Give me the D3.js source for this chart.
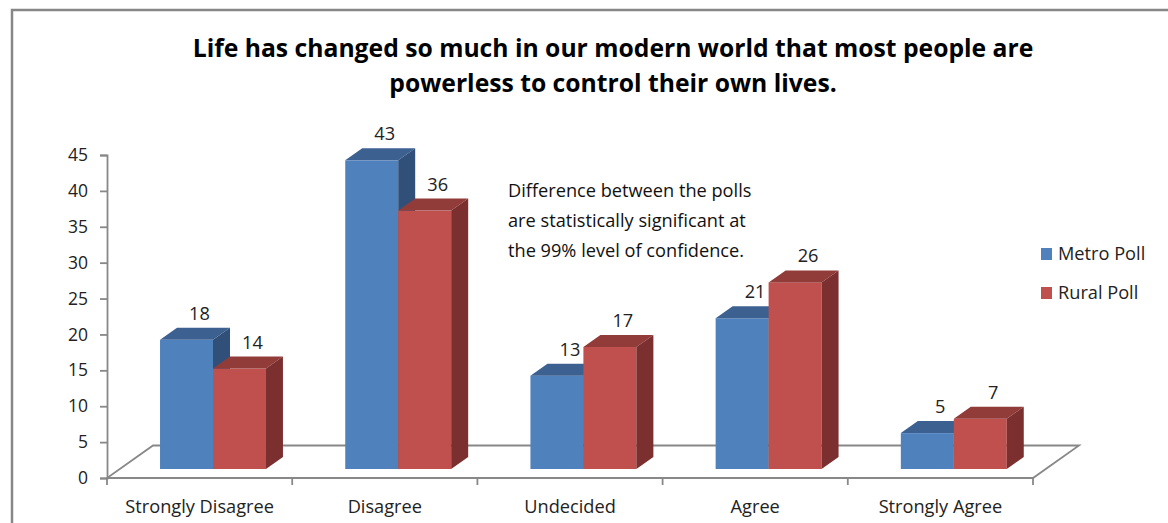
<!DOCTYPE html>
<html>
<head>
<meta charset="utf-8">
<script src="https://cdn.jsdelivr.net/npm/d3@7/dist/d3.min.js"></script>
<style>
  html, body { margin: 0; padding: 0; background: #fff; }
  svg { display: block; font-family: "Open Sans", Lato, sans-serif; }
</style>
</head>
<body>
<svg id="chart" width="1168" height="523"></svg>
<script>
// Survey responses (%) by poll
const categories = ["Strongly Disagree", "Disagree", "Undecided", "Agree", "Strongly Agree"];
const seriesNames = ["Metro Poll", "Rural Poll"];
const metroValues = [18, 43, 13, 21, 5];
const ruralValues = [14, 36, 17, 26, 7];
const yTicks = [0, 5, 10, 15, 20, 25, 30, 35, 40, 45];
const titleLines = [
  "Life has changed so much in our modern world that most people are",
  "powerless to control their own lives."
];
const noteLines = [
  "Difference between the polls",
  "are statistically significant at",
  "the 99% level of confidence."
];

const svg = d3.select("#chart");
const font = "'Open Sans', Lato, sans-serif";
const textSize = 18.2;

// Colours for each series: front, top and side faces
const palette = {
  "Metro Poll": { front: "#4F81BD", top: "#3C6190", side: "#30507A" },
  "Rural Poll": { front: "#C0504D", top: "#923C3A", side: "#7B2F2E" }
};
const axisColor = "#888888";

// Outer chart frame
svg.append("rect")
  .attr("x", 12).attr("y", 10)
  .attr("width", 1200).attr("height", 560)
  .attr("fill", "none").attr("stroke", "#878787").attr("stroke-width", 2.5);

// Title
svg.append("g").selectAll("text").data(titleLines).join("text")
  .attr("x", 613).attr("y", (d, i) => 57 + i * 35)
  .attr("text-anchor", "middle")
  .attr("font-weight", "bold").attr("font-size", 24.7)
  .attr("fill", "#000")
  .text(d => d);

// Scales
const x = d3.scaleBand().domain(categories).range([107, 1033]).paddingInner(0).paddingOuter(0);
const y = d3.scaleLinear().domain([0, 45]).range([478, 155]);
const barW = x.bandwidth() * 0.286;
const xs = d3.scaleBand().domain(seriesNames)
  .range([(x.bandwidth() - 2 * barW) / 2, (x.bandwidth() + 2 * barW) / 2]);

// 3D offsets: floor depth, bar placement within the floor, bar depth
const floorDX = 46, floorDY = -32.5;
const placeDX = 13.4, placeDY = -9;
const barDX = 17, barDY = -12;

// Floor parallelogram
const x0 = x.range()[0], x1 = x.range()[1], y0 = y(0);
svg.append("path")
  .attr("d", `M${x0},${y0} L${x1},${y0} L${x1 + floorDX},${y0 + floorDY} L${x0 + floorDX},${y0 + floorDY} Z`)
  .attr("fill", "none").attr("stroke", axisColor).attr("stroke-width", 1.8);

// Value axis
const yAxis = svg.append("g").attr("transform", `translate(${x0},0)`)
  .call(d3.axisLeft(y).tickValues(yTicks).tickSize(7).tickPadding(12));
yAxis.select(".domain").attr("stroke", axisColor).attr("stroke-width", 1.8);
yAxis.selectAll(".tick line").attr("stroke", axisColor).attr("stroke-width", 1.8);
yAxis.selectAll(".tick text")
  .attr("font-family", font).attr("font-size", 17.5).attr("fill", "#222");

// Category axis
const xAxis = svg.append("g").attr("transform", `translate(0,${y0})`)
  .call(d3.axisBottom(x).tickSize(0).tickPadding(22));
xAxis.select(".domain").remove();
xAxis.selectAll(".tick text")
  .attr("font-family", font).attr("font-size", textSize).attr("fill", "#222");
// Tick marks at category boundaries
svg.append("g").selectAll("line").data(categories).join("line")
  .attr("x1", d => x(d) + x.bandwidth()).attr("x2", d => x(d) + x.bandwidth())
  .attr("y1", y0).attr("y2", y0 + 7)
  .attr("stroke", axisColor).attr("stroke-width", 1.8);
svg.append("line")
  .attr("x1", x0).attr("x2", x0).attr("y1", y0).attr("y2", y0 + 7)
  .attr("stroke", axisColor).attr("stroke-width", 1.8);

// Bar data
const bars = [];
categories.forEach((c, i) => {
  bars.push({ cat: c, series: "Metro Poll", value: metroValues[i] });
  bars.push({ cat: c, series: "Rural Poll", value: ruralValues[i] });
});

const barG = svg.append("g");
bars.forEach(b => {
  const left = x(b.cat) + xs(b.series) + placeDX;
  const right = left + barW;
  const bottom = y(0) + placeDY;
  const top = y(b.value) + placeDY;
  const col = palette[b.series];
  const g = barG.append("g");
  // front
  g.append("rect").attr("x", left).attr("y", top)
    .attr("width", barW).attr("height", bottom - top)
    .attr("fill", col.front);
  // top
  g.append("path")
    .attr("d", `M${left},${top} L${right},${top} L${right + barDX},${top + barDY} L${left + barDX},${top + barDY} Z`)
    .attr("fill", col.top);
  // side
  g.append("path")
    .attr("d", `M${right},${top} L${right + barDX},${top + barDY} L${right + barDX},${bottom + barDY} L${right},${bottom} Z`)
    .attr("fill", col.side);
  // value label
  g.append("text")
    .attr("x", (left + right) / 2 + 13)
    .attr("y", top - 20)
    .attr("text-anchor", "middle")
    .attr("font-size", textSize).attr("fill", "#222")
    .text(b.value);
});

// Significance note
svg.append("g").selectAll("text").data(noteLines).join("text")
  .attr("x", 508).attr("y", (d, i) => 197 + i * 30)
  .attr("font-size", textSize).attr("fill", "#111")
  .text(d => d);

// Legend
const legend = svg.append("g").selectAll("g").data(seriesNames).join("g")
  .attr("transform", (d, i) => `translate(1041,${248 + i * 39})`);
legend.append("rect").attr("width", 11).attr("height", 12)
  .attr("fill", d => palette[d].front);
legend.append("text").attr("x", 17).attr("y", 12)
  .attr("font-size", textSize).attr("fill", "#222")
  .text(d => d);
</script>
</body>
</html>
